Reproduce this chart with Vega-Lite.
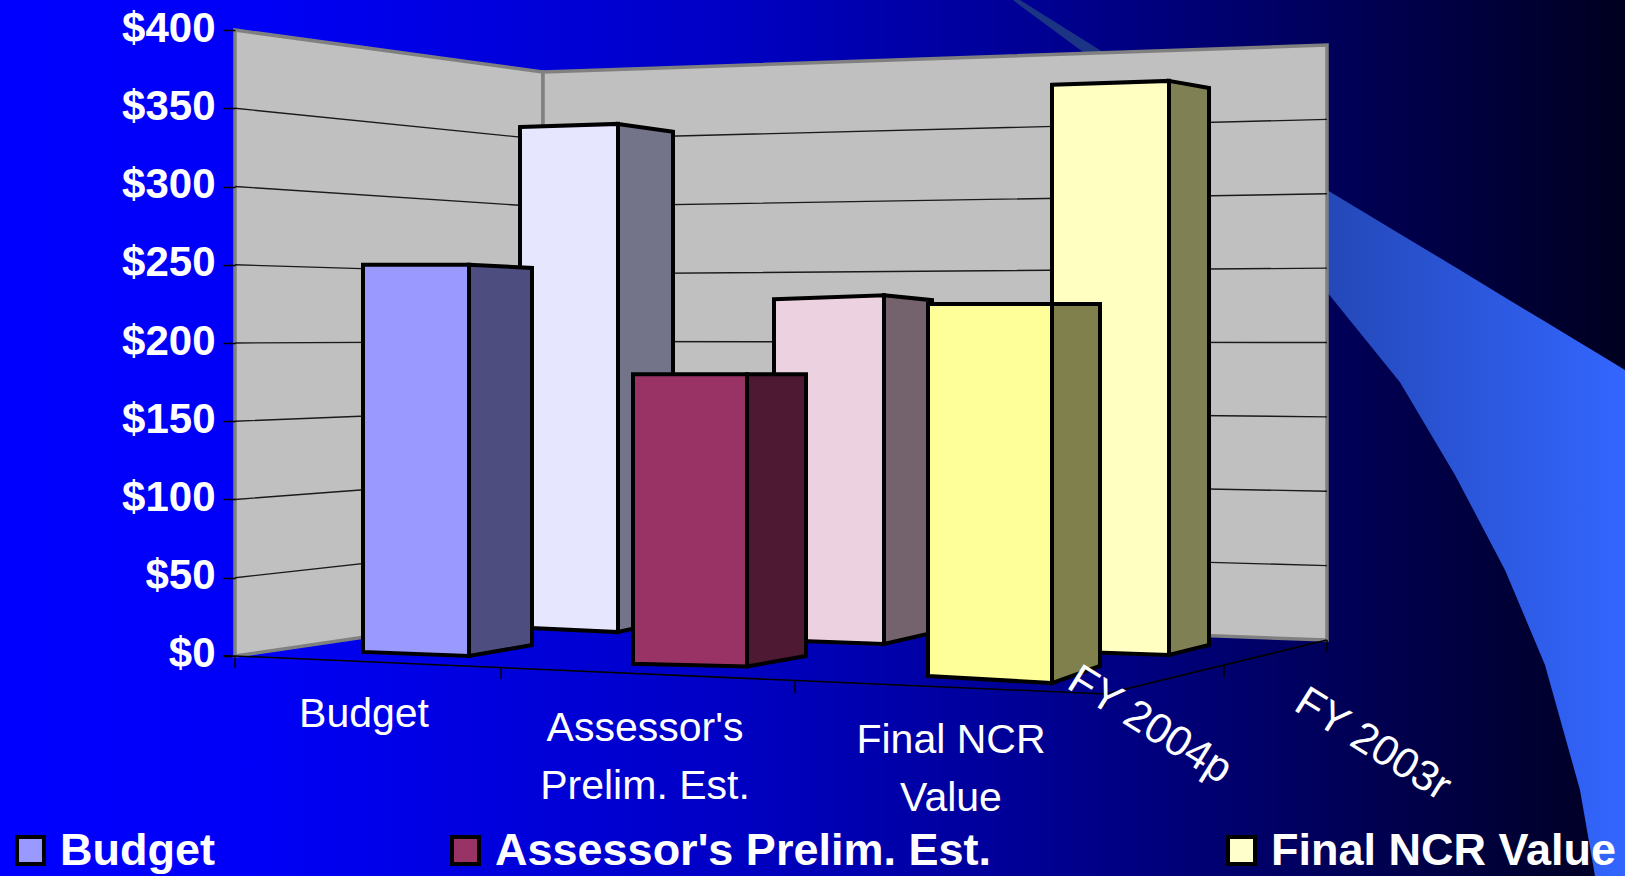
{"$schema":"https://vega.github.io/schema/vega-lite/v6.json","width":1625,"height":876,"padding":0,"autosize":{"type":"none"},"background":"#0000ff","config":{"view":{"stroke":null},"font":"Liberation Sans"},
"resolve":{"axis":{"y":"independent"}},
"datasets":{"bars":[
{"year":"FY 2003r","category":"Budget","value":338},
{"year":"FY 2003r","category":"Assessor's Prelim. Est.","value":228},
{"year":"FY 2003r","category":"Final NCR Value","value":365},
{"year":"FY 2004p","category":"Budget","value":250},
{"year":"FY 2004p","category":"Assessor's Prelim. Est.","value":180},
{"year":"FY 2004p","category":"Final NCR Value","value":225}],
"grid":[{"amount":50},{"amount":100},{"amount":150},{"amount":200},{"amount":250},{"amount":300},{"amount":350}]},
"layer":[
{"data":{"name":"bars"},"mark":{"type":"square","stroke":"black","strokeWidth":4,"size":729,"opacity":1},
"encoding":{"x":{"datum":100,"type":"quantitative","scale":{"domain":[0,1625],"nice":false,"zero":false},"axis":null},
"y":{"datum":100,"type":"quantitative","scale":{"domain":[-140.6,419.2],"nice":false,"zero":false},"axis":{"values":[0,50,100,150,200,250,300,350,400],"format":"$.0f","offset":-235,"domain":false,"grid":false,"title":null,"ticks":true,"tickSize":12,"tickColor":"#000000","tickWidth":1.5,"labelPadding":8,"labelOffset":-2,"labelFont":"Liberation Sans","labelFontSize":42,"labelFontWeight":"bold","labelColor":"#ffffff","zindex":1}},
"color":{"field":"category","type":"nominal","scale":{"domain":["Budget","Assessor's Prelim. Est.","Final NCR Value"],"range":["#9999ff","#993366","#ffffcc"]},
"legend":{"title":null,"orient":"none","legendX":8,"legendY":828,"direction":"horizontal","columns":3,"gridAlign":"none","columnPadding":228,"symbolType":"square","symbolSize":729,"symbolStrokeColor":"#000000","symbolStrokeWidth":4,"symbolOpacity":1,"labelFont":"Liberation Sans","labelFontSize":45,"labelFontWeight":"bold","labelColor":"#ffffff","labelLimit":800,"labelOffset":7}}}},
{"data":{"values":[{"part":"sky"}]},"mark":{"type":"rect","color":{"gradient":"linear","x1":0,"x2":1,"y1":0,"y2":0,"stops":[{"offset":0,"color":"#0000ff"},{"offset":0.15,"color":"#0000f8"},{"offset":0.45,"color":"#0000c4"},{"offset":0.65,"color":"#000090"},{"offset":0.85,"color":"#000050"},{"offset":1,"color":"#000020"}]}},
"encoding":{"x":{"datum":0,"type":"quantitative","axis":null},"x2":{"datum":1625},"y":{"datum":-140.6,"type":"quantitative","axis":null},"y2":{"datum":419.2}}},
{"data":{"values":[{"part":"streak"}]},"transform":[{"calculate":"[[1013,419.2,419.2],[1020,419.2,415.7],[1083,394,386],[1103,386,386]]","as":"verts"},{"flatten":["verts"],"as":["v"]},{"calculate":"datum.v[0]","as":"px"},{"calculate":"datum.v[1]","as":"top"},{"calculate":"datum.v[2]","as":"base"}],
"mark":{"type":"area","orient":"vertical","color":"#1c3484"},"encoding":{"x":{"field":"px","type":"quantitative","axis":null},"y":{"field":"top","type":"quantitative","axis":null,"stack":null},"y2":{"field":"base"}}},
{"data":{"values":[{"part":"band"}]},"transform":[{"calculate":"[[1327,297.8,232.6],[1400,269.6,175],[1455,248.6,115.7],[1505,229.1,55],[1545,213.7,-5.8],[1580,200.2,-85.6],[1595,194.4,-140.6],[1625,182.7,-140.6]]","as":"verts"},{"flatten":["verts"],"as":["v"]},{"calculate":"datum.v[0]","as":"px"},{"calculate":"datum.v[1]","as":"top"},{"calculate":"datum.v[2]","as":"base"}],
"mark":{"type":"area","orient":"vertical","color":{"gradient":"linear","x1":0,"x2":1,"y1":0,"y2":0,"stops":[{"offset":0,"color":"#2448b8"},{"offset":1,"color":"#3366ff"}]}},"encoding":{"x":{"field":"px","type":"quantitative","axis":null},"y":{"field":"top","type":"quantitative","axis":null,"stack":null},"y2":{"field":"base"}}},
{"data":{"values":[{"wall":"left"},{"wall":"right"}]},"transform":[{"calculate":"datum.wall=='left'?[[235,400,0],[543,373.2,28.8]]:[[543,373.2,28.8],[1327,390.4,10.2]]","as":"verts"},{"flatten":["verts"],"as":["v"]},{"calculate":"datum.v[0]","as":"px"},{"calculate":"datum.v[1]","as":"top"},{"calculate":"datum.v[2]","as":"base"}],
"mark":{"type":"area","orient":"vertical","fill":"#c0c0c0","stroke":"#808080","strokeWidth":3.5},"encoding":{"detail":{"field":"wall"},"x":{"field":"px","type":"quantitative","axis":null},"y":{"field":"top","type":"quantitative","axis":null,"stack":null},"y2":{"field":"base"}}},
{"data":{"name":"grid"},"transform":[{"calculate":"[[235,datum.amount],[543,28.75+0.861*datum.amount],[1327,10.22+0.9505*datum.amount]]","as":"verts"},{"flatten":["verts"],"as":["v"]},{"calculate":"datum.v[0]","as":"px"},{"calculate":"datum.v[1]","as":"level"}],
"mark":{"type":"line","color":"#1a1a1a","strokeWidth":1.4},"encoding":{"detail":{"field":"amount"},"x":{"field":"px","type":"quantitative","axis":null},"y":{"field":"level","type":"quantitative","axis":null}}},
{"data":{"values":[{"part":"floor axes"}]},"transform":[{"calculate":"[[223,0.3,1105,-24.3],[1105,-24.3,1327,10.2],[235,0,235,-7.7],[501,-7.7,501,-14.7],[795,-16,795,-23.6],[1105,-24.3,1105,-32],[1224,-5.8,1224,-13.4],[1327,10.2,1327,2.6]]","as":"segs"},{"flatten":["segs"],"as":["v"]},{"calculate":"datum.v[0]","as":"px"},{"calculate":"datum.v[1]","as":"py"},{"calculate":"datum.v[2]","as":"px2"},{"calculate":"datum.v[3]","as":"py2"}],
"mark":{"type":"rule","color":"#000000","strokeWidth":1.5},"encoding":{"x":{"field":"px","type":"quantitative","axis":null},"y":{"field":"py","type":"quantitative","axis":null},"x2":{"field":"px2"},"y2":{"field":"py2"}}},
{"data":{"name":"bars"},"transform":[{"calculate":"{\"FY 2003r|Budget\":[[\"front\",520,0,18.2],[\"front\",618,2,15.3],[\"side\",618,2,15.3],[\"side\",673,-3,23]],\"FY 2003r|Assessor's Prelim. Est.\":[[\"front\",774,0,10.2],[\"front\",884,2.5,7.7],[\"side\",884,2.5,7.7],[\"side\",932,-0.6,14.7]],\"FY 2003r|Final NCR Value\":[[\"front\",1052,0,3.2],[\"front\",1169,2.5,0.6],[\"side\",1169,2.5,0.6],[\"side\",1209,-2,7]],\"FY 2004p|Budget\":[[\"front\",363,0,2.6],[\"front\",469,0,0],[\"side\",469,0,0],[\"side\",532,-2,7]],\"FY 2004p|Assessor's Prelim. Est.\":[[\"front\",633,0,-5],[\"front\",747,0,-6.7],[\"side\",747,0,-6.7],[\"side\",806,0,0]],\"FY 2004p|Final NCR Value\":[[\"front\",928,0,-12.8],[\"front\",1052,0,-17.3],[\"side\",1052,0,-17.3],[\"side\",1100,0,-6.4]]}[datum.year+'|'+datum.category]","as":"verts"},{"flatten":["verts"],"as":["v"]},{"calculate":"datum.v[1]","as":"px"},{"calculate":"datum.value+datum.v[2]","as":"top"},{"calculate":"datum.v[3]","as":"base"},{"calculate":"datum.year+' '+datum.category+' '+datum.v[0]","as":"shade"}],
"mark":{"type":"area","orient":"vertical","stroke":"#000000","strokeWidth":4,"strokeJoin":"miter"},
"encoding":{"x":{"field":"px","type":"quantitative","axis":null},"y":{"field":"top","type":"quantitative","axis":null,"stack":null},"y2":{"field":"base"},
"fill":{"field":"shade","type":"nominal","legend":null,"scale":{"domain":["FY 2003r Budget front","FY 2003r Budget side","FY 2003r Assessor's Prelim. Est. front","FY 2003r Assessor's Prelim. Est. side","FY 2003r Final NCR Value front","FY 2003r Final NCR Value side","FY 2004p Budget front","FY 2004p Budget side","FY 2004p Assessor's Prelim. Est. front","FY 2004p Assessor's Prelim. Est. side","FY 2004p Final NCR Value front","FY 2004p Final NCR Value side"],"range":["#e6e6ff","#73738a","#ecd2e0","#74636c","#ffffc2","#808055","#9999ff","#4d4d80","#993366","#4d1933","#ffff99","#80804d"]}}}},
{"data":{"values":[{"label":"Budget"}]},"mark":{"type":"text","color":"#ffffff","fontSize":41,"font":"Liberation Sans","align":"center","baseline":"alphabetic"},"encoding":{"x":{"datum":364,"type":"quantitative","axis":null},"y":{"datum":-45.4,"type":"quantitative","axis":null},"text":{"field":"label"}}},
{"data":{"values":[{"label":"Assessor's\nPrelim. Est."}]},"mark":{"type":"text","color":"#ffffff","fontSize":41,"font":"Liberation Sans","align":"center","baseline":"alphabetic","lineBreak":"\n","lineHeight":58},"encoding":{"x":{"datum":645,"type":"quantitative","axis":null},"y":{"datum":-54.3,"type":"quantitative","axis":null},"text":{"field":"label"}}},
{"data":{"values":[{"label":"Final NCR\nValue"}]},"mark":{"type":"text","color":"#ffffff","fontSize":41,"font":"Liberation Sans","align":"center","baseline":"alphabetic","lineBreak":"\n","lineHeight":58},"encoding":{"x":{"datum":951,"type":"quantitative","axis":null},"y":{"datum":-62,"type":"quantitative","axis":null},"text":{"field":"label"}}},
{"data":{"values":[{"label":"FY 2004p"}]},"mark":{"type":"text","color":"#ffffff","fontSize":42.5,"font":"Liberation Sans","align":"center","baseline":"middle","angle":32},"encoding":{"x":{"datum":1150,"type":"quantitative","axis":null},"y":{"datum":-44,"type":"quantitative","axis":null},"text":{"field":"label"}}},
{"data":{"values":[{"label":"FY 2003r"}]},"mark":{"type":"text","color":"#ffffff","fontSize":42.5,"font":"Liberation Sans","align":"center","baseline":"middle","angle":32},"encoding":{"x":{"datum":1373,"type":"quantitative","axis":null},"y":{"datum":-56.5,"type":"quantitative","axis":null},"text":{"field":"label"}}}
]}
